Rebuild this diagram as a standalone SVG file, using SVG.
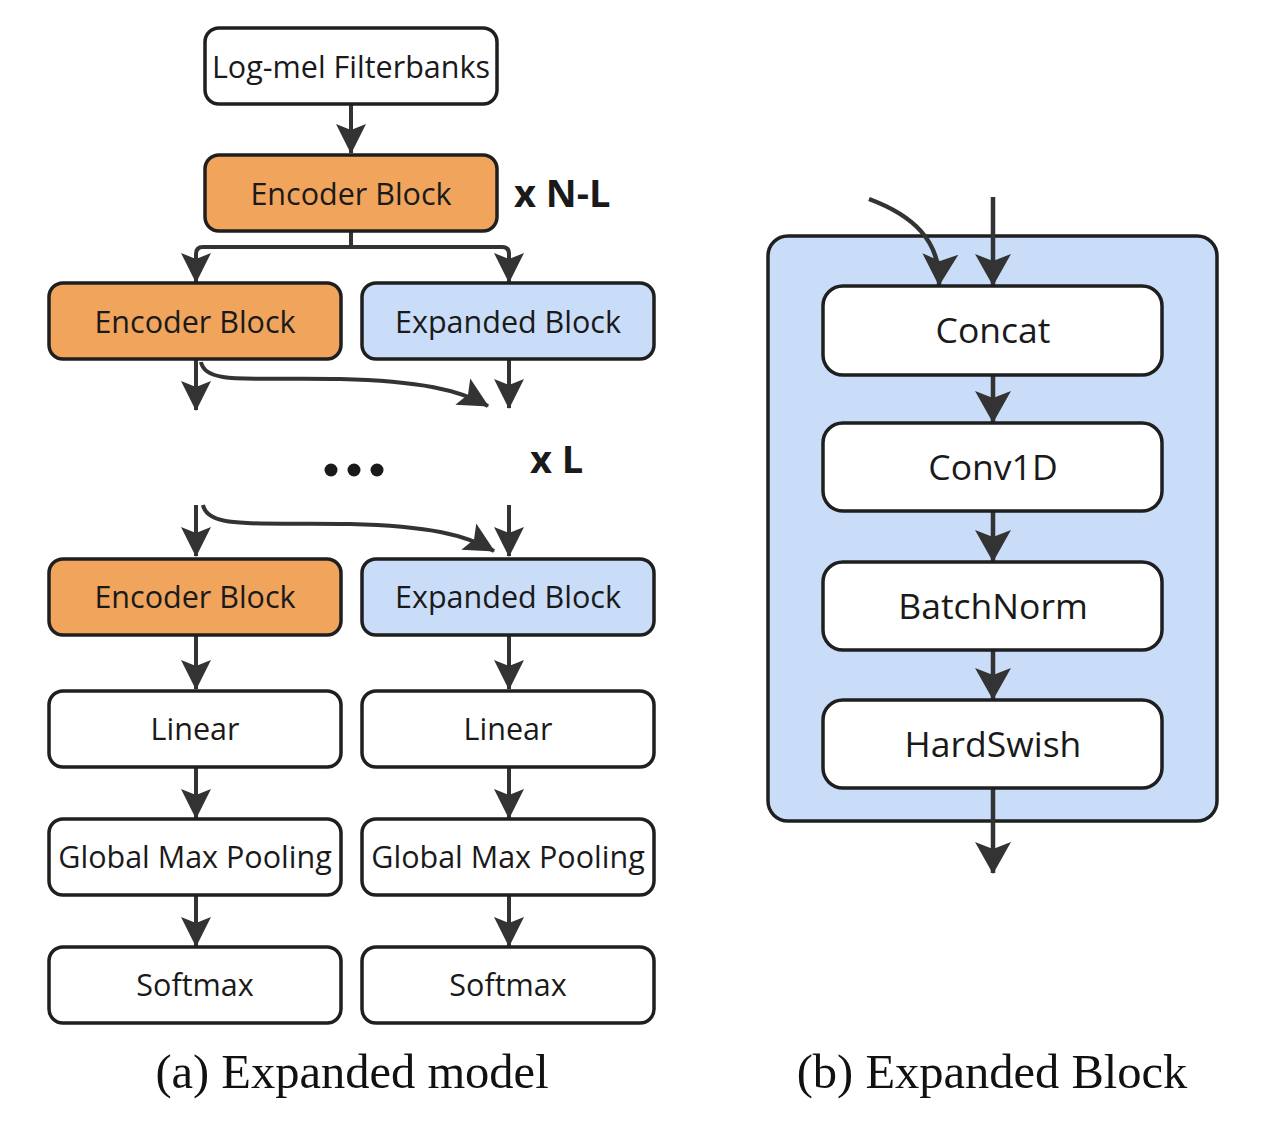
<svg xmlns="http://www.w3.org/2000/svg" width="1280" height="1144" viewBox="0 0 1280 1144">
<style>
.box{stroke:#1f1f1f;stroke-width:3.5}
.w{fill:#ffffff}
.o{fill:#F0A45C}
.b{fill:#C9DCF8}
.t{font-family:"Open Sans","Noto Sans",sans-serif;font-size:30.5px;fill:#1a1a1a;text-anchor:middle;dominant-baseline:central}
.tr{font-size:35.5px}
.lbl{font-family:"Open Sans","Noto Sans",sans-serif;font-weight:bold;font-size:38px;fill:#1a1a1a}
.cap{font-family:"Liberation Serif","Times New Roman",serif;font-size:48.5px;fill:#111;text-anchor:middle}
.c{fill:none;stroke:#333;stroke-width:4}
.cr{stroke-width:4.5}
</style>
<defs>
<marker id="ah" viewBox="0 0 30 32" refX="29" refY="16" markerWidth="30" markerHeight="32" markerUnits="userSpaceOnUse" orient="auto">
<path d="M0,1 L30,16 L0,31 L6,16 z" fill="#333"/>
</marker>
<marker id="ahl" viewBox="0 0 32 38" refX="31" refY="19" markerWidth="32" markerHeight="38" markerUnits="userSpaceOnUse" orient="auto">
<path d="M0,1 L32,19 L0,37 L7,19 z" fill="#333"/>
</marker>
</defs>
<rect width="1280" height="1144" fill="#ffffff"/>

<g id="panel-b-bg">
<rect x="768" y="236" width="449" height="585" rx="20" class="box b"/>
</g>

<g id="connectors">
<path class="c" d="M351,104 L351,153" marker-end="url(#ah)"/>
<path class="c" d="M351,231 L351,247 M196,282 L196,254 Q196,247 203,247 L502,247 Q509,247 509,254 L509,282"/>
<path class="c" d="M196,254 L196,282" marker-end="url(#ah)"/>
<path class="c" d="M509,254 L509,282" marker-end="url(#ah)"/>
<path class="c" d="M196,359 L196,410" marker-end="url(#ah)"/>
<path class="c" d="M509,359 L509,408" marker-end="url(#ah)"/>
<path class="c" d="M201,362 C205,385 250,377 340,379 C420,381 460,390 488,406" marker-end="url(#ah)"/>
<path class="c" d="M196,505 L196,556" marker-end="url(#ah)"/>
<path class="c" d="M509,505 L509,556" marker-end="url(#ah)"/>
<path class="c" d="M203,505 C208,530 260,522 350,524 C430,526 466,535 494,551" marker-end="url(#ah)"/>
<path class="c" d="M196,635 L196,689" marker-end="url(#ah)"/>
<path class="c" d="M509,635 L509,689" marker-end="url(#ah)"/>
<path class="c" d="M196,767 L196,818" marker-end="url(#ah)"/>
<path class="c" d="M509,767 L509,818" marker-end="url(#ah)"/>
<path class="c" d="M196,895 L196,946" marker-end="url(#ah)"/>
<path class="c" d="M509,895 L509,946" marker-end="url(#ah)"/>
<path class="c cr" d="M869,199 C912,215 941,240 939,285" marker-end="url(#ahl)"/>
<path class="c cr" d="M993,197 L993,285" marker-end="url(#ahl)"/>
<path class="c cr" d="M993,375 L993,422" marker-end="url(#ahl)"/>
<path class="c cr" d="M993,511 L993,561" marker-end="url(#ahl)"/>
<path class="c cr" d="M993,650 L993,699" marker-end="url(#ahl)"/>
<path class="c cr" d="M993,788 L993,873" marker-end="url(#ahl)"/>
</g>

<g id="logmel"><rect x="205" y="28" width="292" height="76" rx="14" class="box w"/><text x="351" y="66" class="t">Log-mel Filterbanks</text></g>
<g id="enc-top"><rect x="205" y="155" width="292" height="76" rx="14" class="box o"/><text x="351" y="193" class="t">Encoder Block</text></g>
<g id="enc1"><rect x="49" y="283" width="292" height="76" rx="14" class="box o"/><text x="195" y="321" class="t">Encoder Block</text></g>
<g id="exp1"><rect x="362" y="283" width="292" height="76" rx="14" class="box b"/><text x="508" y="321" class="t">Expanded Block</text></g>
<g id="enc2"><rect x="49" y="559" width="292" height="76" rx="14" class="box o"/><text x="195" y="596" class="t">Encoder Block</text></g>
<g id="exp2"><rect x="362" y="559" width="292" height="76" rx="14" class="box b"/><text x="508" y="596" class="t">Expanded Block</text></g>
<g id="lin1"><rect x="49" y="691" width="292" height="76" rx="14" class="box w"/><text x="195" y="728" class="t">Linear</text></g>
<g id="lin2"><rect x="362" y="691" width="292" height="76" rx="14" class="box w"/><text x="508" y="728" class="t">Linear</text></g>
<g id="gmp1"><rect x="49" y="819" width="292" height="76" rx="14" class="box w"/><text x="195" y="856" class="t">Global Max Pooling</text></g>
<g id="gmp2"><rect x="362" y="819" width="292" height="76" rx="14" class="box w"/><text x="508" y="856" class="t">Global Max Pooling</text></g>
<g id="sm1"><rect x="49" y="947" width="292" height="76" rx="14" class="box w"/><text x="195" y="984" class="t">Softmax</text></g>
<g id="sm2"><rect x="362" y="947" width="292" height="76" rx="14" class="box w"/><text x="508" y="984" class="t">Softmax</text></g>

<g id="concat"><rect x="823" y="286" width="339" height="89" rx="20" class="box w"/><text x="993" y="329" class="t tr">Concat</text></g>
<g id="conv1d"><rect x="823" y="423" width="339" height="88" rx="20" class="box w"/><text x="993" y="466" class="t tr">Conv1D</text></g>
<g id="batchnorm"><rect x="823" y="562" width="339" height="88" rx="20" class="box w"/><text x="993" y="605" class="t tr">BatchNorm</text></g>
<g id="hardswish"><rect x="823" y="700" width="339" height="88" rx="20" class="box w"/><text x="993" y="743" class="t tr">HardSwish</text></g>

<g id="labels">
<text x="514" y="207" class="lbl">x N-L</text>
<text x="530" y="473" class="lbl">x L</text>
<circle cx="331" cy="470" r="6.5" fill="#1a1a1a"/>
<circle cx="354" cy="470" r="6.5" fill="#1a1a1a"/>
<circle cx="377" cy="470" r="6.5" fill="#1a1a1a"/>
<text x="352" y="1088" class="cap">(a) Expanded model</text>
<text x="992" y="1088" class="cap">(b) Expanded Block</text>
</g>
</svg>
